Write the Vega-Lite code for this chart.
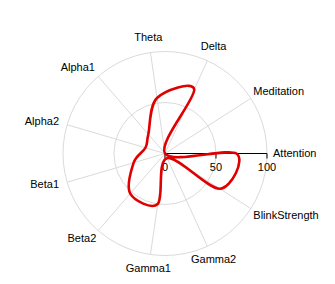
{
  "$schema": "https://vega.github.io/schema/vega-lite/v6.json",
  "width": 335,
  "height": 284,
  "autosize": "none",
  "padding": 0,
  "background": "white",
  "config": {"view": {"stroke": null}},
  "data": {"values": [
    {"cat": "Attention", "i": 0, "value": 70},
    {"cat": "Meditation", "i": 1, "value": 0},
    {"cat": "Delta", "i": 2, "value": 69},
    {"cat": "Theta", "i": 3, "value": 55},
    {"cat": "Alpha1", "i": 4, "value": 25},
    {"cat": "Alpha2", "i": 5, "value": 20},
    {"cat": "Beta1", "i": 6, "value": 32},
    {"cat": "Beta2", "i": 7, "value": 52},
    {"cat": "Gamma1", "i": 8, "value": 50},
    {"cat": "Gamma2", "i": 9, "value": 5},
    {"cat": "BlinkStrength", "i": 10, "value": 64}
  ]},
  "transform": [
    {"calculate": "datum.i * 2 * PI / 11", "as": "a"},
    {"calculate": "datum.value * cos(datum.a)", "as": "px"},
    {"calculate": "datum.value * sin(datum.a)", "as": "py"},
    {"calculate": "100 * cos(datum.a)", "as": "gx"},
    {"calculate": "100 * sin(datum.a)", "as": "gy"},
    {"calculate": "0", "as": "z"}
  ],
  "layer": [
    {
      "data": {"values": [{"r": 50}, {"r": 100}]},
      "transform": [{"calculate": "0", "as": "z"}],
      "mark": {"type": "point", "shape": "circle", "filled": false, "stroke": "#dadada", "strokeWidth": 1, "opacity": 1},
      "encoding": {
        "x": {"field": "z", "type": "quantitative", "scale": {"domain": [-161.765, 166.667], "nice": false, "zero": false}, "axis": null},
        "y": {"field": "z", "type": "quantitative", "scale": {"domain": [-127.94, 150.49], "nice": false, "zero": false}, "axis": null},
        "size": {"field": "r", "type": "quantitative", "scale": {"type": "pow", "exponent": 2, "domain": [0, 100], "range": [0, 41616]}, "legend": null}
      }
    },
    {
      "mark": {"type": "rule", "stroke": "#dadada", "strokeWidth": 1},
      "encoding": {
        "x": {"field": "z", "type": "quantitative", "scale": {"domain": [-161.765, 166.667], "nice": false, "zero": false}, "axis": null},
        "y": {"field": "z", "type": "quantitative", "scale": {"domain": [-127.94, 150.49], "nice": false, "zero": false}, "axis": null},
        "x2": {"field": "gx"},
        "y2": {"field": "gy"}
      }
    },
    {
      "data": {"values": [{"t": 100}]},
      "transform": [{"calculate": "0", "as": "z"}],
      "mark": {"type": "rule", "stroke": "black", "strokeWidth": 1},
      "encoding": {
        "x": {"field": "z", "type": "quantitative", "scale": {"domain": [-161.765, 166.667], "nice": false, "zero": false}, "axis": null},
        "y": {"field": "z", "type": "quantitative", "scale": {"domain": [-127.94, 150.49], "nice": false, "zero": false}, "axis": null},
        "x2": {"field": "t"}
      }
    },
    {
      "data": {"values": [{"t": 0}, {"t": 50}, {"t": 100}]},
      "transform": [{"calculate": "0", "as": "z"}, {"calculate": "-4.9", "as": "tb"}],
      "mark": {"type": "rule", "stroke": "black", "strokeWidth": 1},
      "encoding": {
        "x": {"field": "t", "type": "quantitative", "scale": {"domain": [-161.765, 166.667], "nice": false, "zero": false}, "axis": null},
        "y": {"field": "z", "type": "quantitative", "scale": {"domain": [-127.94, 150.49], "nice": false, "zero": false}, "axis": null},
        "y2": {"field": "tb"}
      }
    },
    {
      "data": {"values": [{"t": 0}, {"t": 50}, {"t": 100}]},
      "transform": [{"calculate": "0", "as": "z"}],
      "mark": {"type": "text", "align": "center", "baseline": "middle", "dy": 14.5, "font": "Liberation Sans", "fontSize": 11, "color": "black"},
      "encoding": {
        "x": {"field": "t", "type": "quantitative", "scale": {"domain": [-161.765, 166.667], "nice": false, "zero": false}, "axis": null},
        "y": {"field": "z", "type": "quantitative", "scale": {"domain": [-127.94, 150.49], "nice": false, "zero": false}, "axis": null},
        "text": {"field": "t", "type": "quantitative"}
      }
    },
    {
      "mark": {"type": "line", "interpolate": "cardinal-closed", "tension": 0, "stroke": "#e00000", "strokeWidth": 2.6},
      "encoding": {
        "x": {"field": "px", "type": "quantitative", "scale": {"domain": [-161.765, 166.667], "nice": false, "zero": false}, "axis": null},
        "y": {"field": "py", "type": "quantitative", "scale": {"domain": [-127.94, 150.49], "nice": false, "zero": false}, "axis": null},
        "order": {"field": "i", "type": "quantitative"}
      }
    },
    {
      "transform": [
        {"filter": {"field": "cat", "oneOf": ["Delta", "Theta", "Gamma1", "Gamma2"]}},
        {"calculate": "114.7 * cos(datum.a)", "as": "lx"},
        {"calculate": "114.7 * sin(datum.a)", "as": "ly"}
      ],
      "mark": {"type": "text", "align": "center", "baseline": "middle", "font": "Liberation Sans", "fontSize": 11, "color": "black"},
      "encoding": {
        "x": {"field": "lx", "type": "quantitative", "scale": {"domain": [-161.765, 166.667], "nice": false, "zero": false}, "axis": null},
        "y": {"field": "ly", "type": "quantitative", "scale": {"domain": [-127.94, 150.49], "nice": false, "zero": false}, "axis": null},
        "text": {"field": "cat"}
      }
    },
    {
      "transform": [
        {"filter": {"field": "cat", "oneOf": ["Attention"]}},
        {"calculate": "105.9 * cos(datum.a)", "as": "lx"},
        {"calculate": "105.9 * sin(datum.a)", "as": "ly"}
      ],
      "mark": {"type": "text", "align": "left", "baseline": "middle", "font": "Liberation Sans", "fontSize": 11, "color": "black"},
      "encoding": {
        "x": {"field": "lx", "type": "quantitative", "scale": {"domain": [-161.765, 166.667], "nice": false, "zero": false}, "axis": null},
        "y": {"field": "ly", "type": "quantitative", "scale": {"domain": [-127.94, 150.49], "nice": false, "zero": false}, "axis": null},
        "text": {"field": "cat"}
      }
    },
    {
      "transform": [
        {"filter": {"field": "cat", "oneOf": ["Meditation"]}},
        {"calculate": "102.9 * cos(datum.a)", "as": "lx"},
        {"calculate": "102.9 * sin(datum.a)", "as": "ly"}
      ],
      "mark": {"type": "text", "align": "left", "baseline": "bottom", "font": "Liberation Sans", "fontSize": 11, "color": "black"},
      "encoding": {
        "x": {"field": "lx", "type": "quantitative", "scale": {"domain": [-161.765, 166.667], "nice": false, "zero": false}, "axis": null},
        "y": {"field": "ly", "type": "quantitative", "scale": {"domain": [-127.94, 150.49], "nice": false, "zero": false}, "axis": null},
        "text": {"field": "cat"}
      }
    },
    {
      "transform": [
        {"filter": {"field": "cat", "oneOf": ["BlinkStrength"]}},
        {"calculate": "102.9 * cos(datum.a)", "as": "lx"},
        {"calculate": "102.9 * sin(datum.a)", "as": "ly"}
      ],
      "mark": {"type": "text", "align": "left", "baseline": "top", "font": "Liberation Sans", "fontSize": 11, "color": "black"},
      "encoding": {
        "x": {"field": "lx", "type": "quantitative", "scale": {"domain": [-161.765, 166.667], "nice": false, "zero": false}, "axis": null},
        "y": {"field": "ly", "type": "quantitative", "scale": {"domain": [-127.94, 150.49], "nice": false, "zero": false}, "axis": null},
        "text": {"field": "cat"}
      }
    },
    {
      "transform": [
        {"filter": {"field": "cat", "oneOf": ["Alpha2", "Beta1"]}},
        {"calculate": "108.3 * cos(datum.a)", "as": "lx"},
        {"calculate": "108.3 * sin(datum.a)", "as": "ly"}
      ],
      "mark": {"type": "text", "align": "right", "baseline": "middle", "font": "Liberation Sans", "fontSize": 11, "color": "black"},
      "encoding": {
        "x": {"field": "lx", "type": "quantitative", "scale": {"domain": [-161.765, 166.667], "nice": false, "zero": false}, "axis": null},
        "y": {"field": "ly", "type": "quantitative", "scale": {"domain": [-127.94, 150.49], "nice": false, "zero": false}, "axis": null},
        "text": {"field": "cat"}
      }
    },
    {
      "transform": [
        {"filter": {"field": "cat", "oneOf": ["Alpha1"]}},
        {"calculate": "104.9 * cos(datum.a)", "as": "lx"},
        {"calculate": "104.9 * sin(datum.a)", "as": "ly"}
      ],
      "mark": {"type": "text", "align": "right", "baseline": "bottom", "font": "Liberation Sans", "fontSize": 11, "color": "black"},
      "encoding": {
        "x": {"field": "lx", "type": "quantitative", "scale": {"domain": [-161.765, 166.667], "nice": false, "zero": false}, "axis": null},
        "y": {"field": "ly", "type": "quantitative", "scale": {"domain": [-127.94, 150.49], "nice": false, "zero": false}, "axis": null},
        "text": {"field": "cat"}
      }
    },
    {
      "transform": [
        {"filter": {"field": "cat", "oneOf": ["Beta2"]}},
        {"calculate": "102.9 * cos(datum.a)", "as": "lx"},
        {"calculate": "102.9 * sin(datum.a)", "as": "ly"}
      ],
      "mark": {"type": "text", "align": "right", "baseline": "top", "font": "Liberation Sans", "fontSize": 11, "color": "black"},
      "encoding": {
        "x": {"field": "lx", "type": "quantitative", "scale": {"domain": [-161.765, 166.667], "nice": false, "zero": false}, "axis": null},
        "y": {"field": "ly", "type": "quantitative", "scale": {"domain": [-127.94, 150.49], "nice": false, "zero": false}, "axis": null},
        "text": {"field": "cat"}
      }
    }
  ]
}
